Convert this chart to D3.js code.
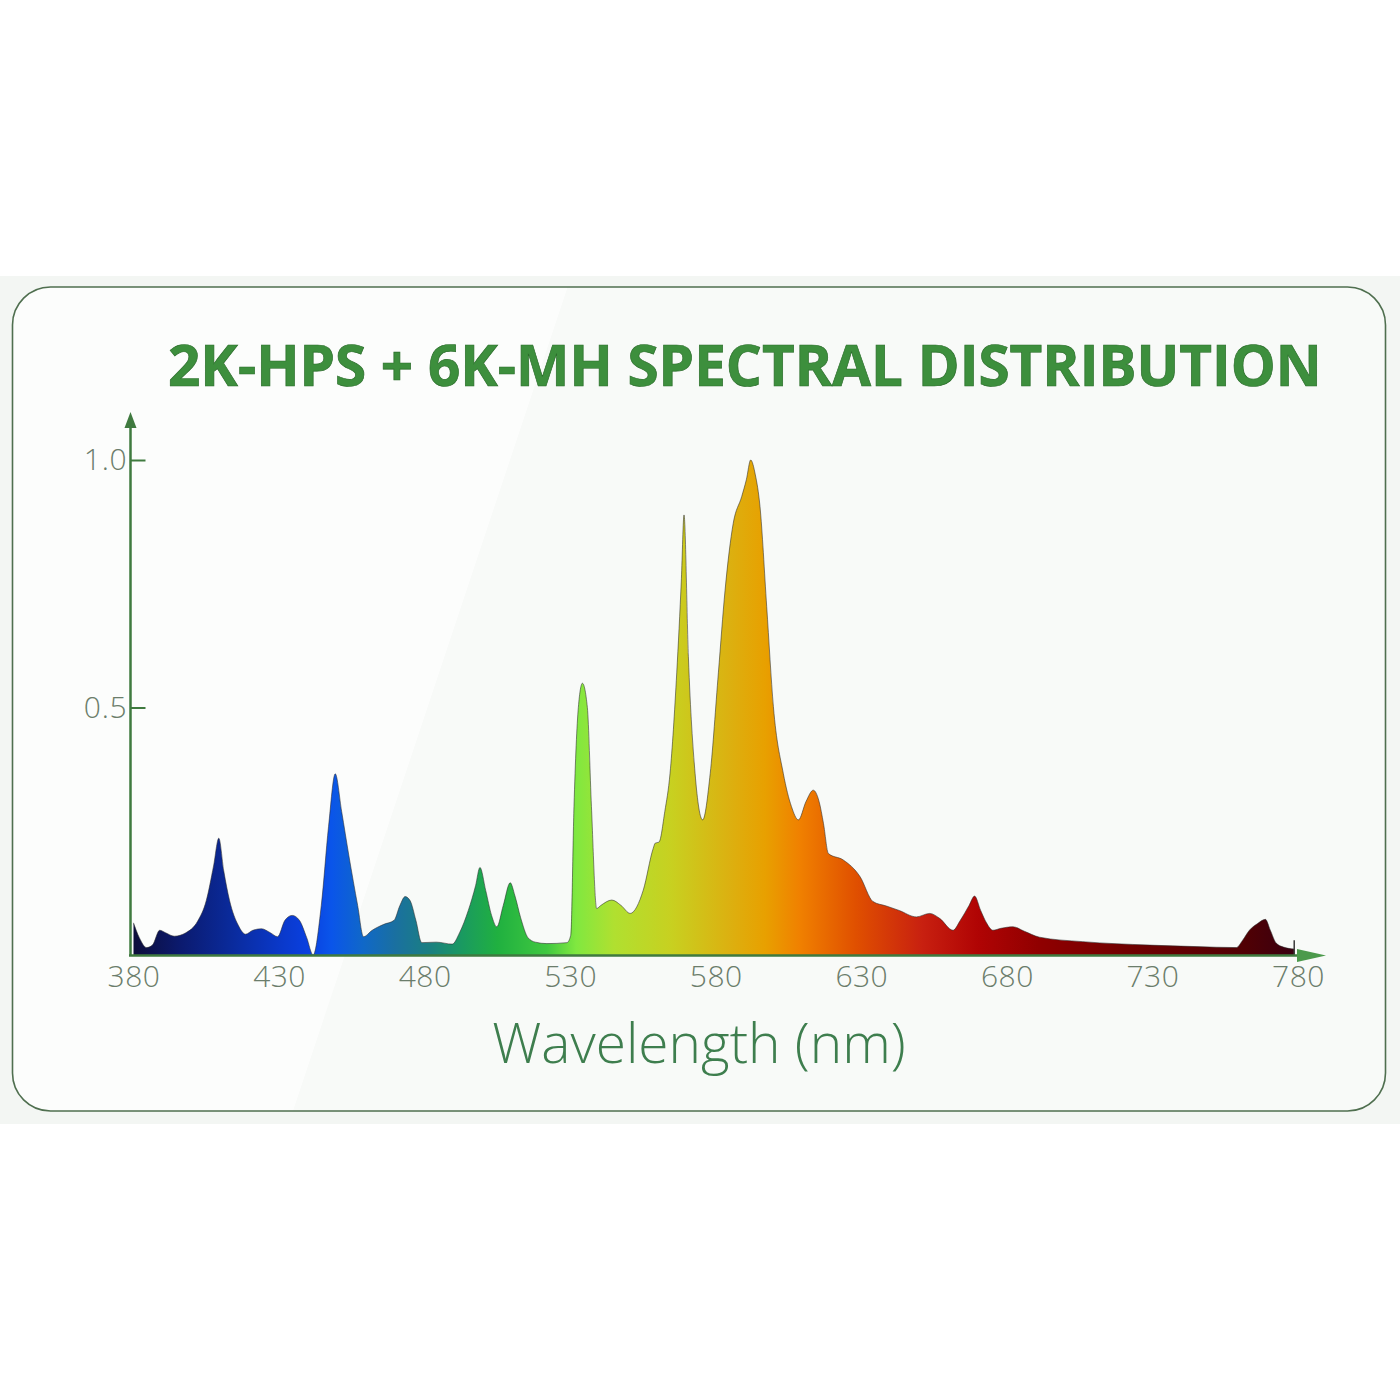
<!DOCTYPE html>
<html>
<head>
<meta charset="utf-8">
<script src="https://cdn.jsdelivr.net/npm/d3@7"></script>
<style>
  html, body { margin: 0; padding: 0; background: #ffffff; }
</style>
</head>
<body>
<div id="canvas"></div>
<script>
"use strict"

/* spectrum samples (nm, relative intensity) */
let wavelengths = [380, 382, 384.5, 386.5, 389, 391, 394, 398, 402, 405, 407.5, 409.3, 411, 413, 416, 418.5,
    421, 424, 427, 429.5, 432, 434.5, 437, 439.5, 441.7, 444.5, 447, 449.3, 451.5, 454, 457, 459,
    462, 466, 469.5, 471.5, 473.3, 475, 477, 479, 484, 489.5, 492, 495, 497.5, 499, 501, 503, 504.8,
    507, 509.4, 511, 513, 515.5, 518, 522, 528.9,
    530.2, 531.3, 532.8, 534.2, 535.9, 537.3, 539.1, 540.5, 544.3, 547.5,
    550.6, 555.1, 558.5, 559.2, 560.5, 562.5, 564.3, 566.6, 568.2, 569.1,
    570.6, 572.9, 575.5, 578.1, 580.9, 583.2, 586, 588.9, 590.5, 592,
    593.6, 595.2, 597.5, 599.8, 603.2, 606, 608.4, 611, 613.5, 615.5,
    617, 618.7, 623.8, 629.6, 634,
    638.6, 643, 648.9, 653.5, 656.9, 661.5, 664, 667, 668.9, 671,
    673, 675.2, 678, 682.1, 686, 691.2, 706, 729, 745, 758.8,
    761, 763.3, 766, 768.8, 770.5, 772.5, 775, 778.7];

let intensity = [0.065, 0.035, 0.015, 0.02, 0.05, 0.045, 0.038, 0.045, 0.068, 0.11, 0.18, 0.236, 0.17, 0.11, 0.06, 0.042,
    0.05, 0.053, 0.045, 0.037, 0.07, 0.08, 0.07, 0.035, 0.0, 0.1, 0.26, 0.366, 0.29, 0.2, 0.1, 0.037,
    0.05, 0.062, 0.07, 0.1, 0.118, 0.11, 0.07, 0.025, 0.026, 0.022, 0.045, 0.09, 0.14, 0.177, 0.13, 0.08, 0.057,
    0.1, 0.146, 0.12, 0.075, 0.035, 0.026, 0.023, 0.025,
    0.04, 0.3, 0.5, 0.549, 0.5, 0.3, 0.094, 0.1, 0.111, 0.1,
    0.084, 0.131, 0.215, 0.226, 0.228, 0.29, 0.367, 0.57, 0.76, 0.889,
    0.603, 0.367, 0.273, 0.367, 0.57, 0.737, 0.872, 0.926, 0.96, 1.0,
    0.97, 0.906, 0.704, 0.502, 0.367, 0.3, 0.273, 0.31, 0.333, 0.31,
    0.266, 0.205, 0.192, 0.158, 0.108,
    0.099, 0.09, 0.077, 0.084, 0.074, 0.05, 0.07, 0.1, 0.119, 0.09,
    0.065, 0.05, 0.054, 0.057, 0.048, 0.036, 0.027, 0.02, 0.017, 0.015,
    0.03, 0.05, 0.063, 0.072, 0.05, 0.024, 0.016, 0.012];

/* fill colours along the wavelength axis */
let stopNm = [380, 396, 413, 430, 440, 448, 459, 470, 482, 493, 505, 522, 532, 545, 565, 585, 597, 609, 628, 651, 670, 691, 722, 762, 778];
let stopColors = ["#0d0d3a", "#0b1a6e", "#0a2a9a", "#0a38c8", "#0a40e0", "#0a55ea", "#1068c8", "#1a70a0", "#1a8080",
    "#1a9a60", "#20b040", "#40c840", "#80e840", "#b0e030", "#c8d020", "#dcb010", "#e8a000", "#f08000", "#e05000",
    "#c82010", "#b00404", "#900000", "#700000", "#500004", "#3a0010"];

let xTicks = [380, 430, 480, 530, 580, 630, 680, 730, 780];
let yTicks = [0.5, 1.0];

let spectrum = wavelengths.map((w, i) => ({nm: w, v: intensity[i]}));

let drawing = d3.select("#canvas")
    .append("svg")
    .attr("width", 1400)
    .attr("height", 1400);

let defs = drawing.append("defs");

/* grey band behind the card */
drawing.append("rect")
    .attr("x", 0)
    .attr("y", 276)
    .attr("width", 1400)
    .attr("height", 848)
    .attr("fill", "#f3f6f3");

/* card */
defs.append("clipPath")
    .attr("id", "cardClip")
    .append("rect")
    .attr("x", 12.5)
    .attr("y", 287)
    .attr("width", 1373)
    .attr("height", 824)
    .attr("rx", 38);

drawing.append("rect")
    .attr("x", 12.5)
    .attr("y", 287)
    .attr("width", 1373)
    .attr("height", 824)
    .attr("rx", 38)
    .attr("fill", "#f8faf8");

/* lighter wedge on the left of the card */
drawing.append("path")
    .attr("clip-path", "url(#cardClip)")
    .attr("d", "M0,280 L0,1120 L290,1120 L570,280 Z")
    .attr("fill", "#ffffff")
    .attr("opacity", 0.6);

drawing.append("rect")
    .attr("x", 12.5)
    .attr("y", 287)
    .attr("width", 1373)
    .attr("height", 824)
    .attr("rx", 38)
    .attr("fill", "none")
    .attr("stroke", "#4f6f4f")
    .attr("stroke-width", 1.6);

let x = d3.scaleLinear().domain([380, 780]).range([133.5, 1298]);
let y = d3.scaleLinear().domain([0, 1]).range([955, 460]);

/* gradient for the spectrum fill */
let grad = defs.append("linearGradient")
    .attr("id", "spec")
    .attr("gradientUnits", "userSpaceOnUse")
    .attr("x1", x(380)).attr("x2", x(780))
    .attr("y1", 0).attr("y2", 0);

grad.selectAll("stop")
    .data(stopNm)
    .join("stop")
    .attr("offset", d => (d - 380) / 400)
    .attr("stop-color", (d, i) => stopColors[i]);

let area = d3.area()
    .x(d => x(d.nm))
    .y0(y(0))
    .y1(d => y(d.v))
    .curve(d3.curveMonotoneX);

let line = d3.line()
    .x(d => x(d.nm))
    .y(d => y(d.v))
    .curve(d3.curveMonotoneX);

drawing.append("path")
    .datum(spectrum)
    .attr("d", area)
    .attr("fill", "url(#spec)");

drawing.append("path")
    .datum(spectrum)
    .attr("d", line)
    .attr("fill", "none")
    .attr("stroke", "#2a2a2a")
    .attr("stroke-opacity", 0.55)
    .attr("stroke-width", 1);

/* small end mark */
drawing.append("line")
    .attr("x1", x(778.7)).attr("x2", x(778.7))
    .attr("y1", y(0)).attr("y2", y(0.03))
    .attr("stroke", "#3a3a3a")
    .attr("stroke-width", 1.5);

/* x axis */
let xAxis = drawing.append("g")
    .attr("transform", "translate(0," + y(0) + ")")
    .call(d3.axisBottom(x).tickValues(xTicks).tickSize(0).tickPadding(11).tickFormat(d3.format("d")));
xAxis.select(".domain").remove();
xAxis.selectAll("text")
    .attr("font-family", "Open Sans")
    .attr("font-weight", 300)
    .attr("font-size", 30)
    .attr("letter-spacing", 0.5)
    .attr("fill", "#6b7d6b");

/* y axis */
let yAxis = drawing.append("g")
    .attr("transform", "translate(130.5,0)")
    .call(d3.axisLeft(y).tickValues(yTicks).tickSizeInner(-15).tickSizeOuter(0).tickPadding(3).tickFormat(d3.format(".1f")));
yAxis.select(".domain").remove();
yAxis.selectAll("line")
    .attr("stroke", "#3f7a3f")
    .attr("stroke-width", 2);
yAxis.selectAll("text")
    .attr("font-family", "Open Sans")
    .attr("font-weight", 300)
    .attr("font-size", 30)
    .attr("letter-spacing", 0.8)
    .attr("fill", "#6b7d6b");

/* axis lines with arrow heads */
drawing.append("line")
    .attr("x1", 130.5).attr("x2", 130.5)
    .attr("y1", 956).attr("y2", 424)
    .attr("stroke", "#3f7a3f")
    .attr("stroke-width", 2.5);
drawing.append("path")
    .attr("d", "M130.5,412 L124.5,428 L136.5,428 Z")
    .attr("fill", "#3f7a3f");

drawing.append("line")
    .attr("x1", 129).attr("x2", 1300)
    .attr("y1", 955.5).attr("y2", 955.5)
    .attr("stroke", "#3f7a3f")
    .attr("stroke-width", 2.5);
drawing.append("path")
    .attr("d", "M1326,955.5 L1297,949 L1297,962 Z")
    .attr("fill", "#4c9a4c");

/* title */
drawing.append("text")
    .attr("x", 168)
    .attr("y", 386)
    .attr("font-family", "Open Sans")
    .attr("font-weight", 700)
    .attr("font-size", 56.6)
    .attr("fill", "#3d8f3d")
    .attr("stroke", "#2c6e2c")
    .attr("stroke-width", 0.7)
    .text("2K-HPS + 6K-MH SPECTRAL DISTRIBUTION");

/* x axis title */
drawing.append("text")
    .attr("x", 699)
    .attr("y", 1063)
    .attr("text-anchor", "middle")
    .attr("font-family", "Open Sans")
    .attr("font-weight", 300)
    .attr("font-size", 55)
    .attr("fill", "#3e7e4e")
    .text("Wavelength (nm)");
</script>
</body>
</html>
